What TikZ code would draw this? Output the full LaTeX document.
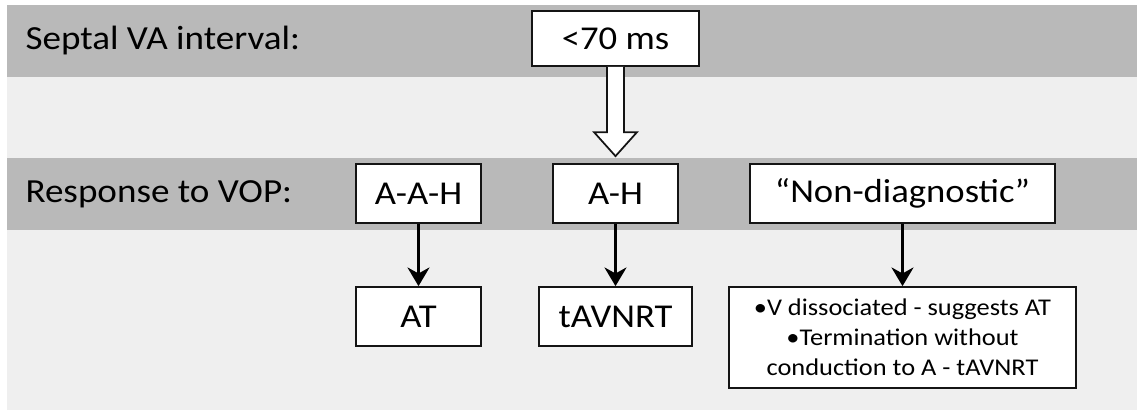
\documentclass[tikz,border=0pt]{standalone}
\usepackage{fontspec}
\setmainfont{Carlito}[FakeStretch=1.1]
\usetikzlibrary{arrows.meta,calc}

\definecolor{bandgray}{RGB}{185,185,185}
\definecolor{lightgray}{RGB}{239,239,239}

\tikzset{every picture/.style={line width=0.75pt}}
\tikzset{
	box/.style={draw={rgb, 255:red, 20; green, 20; blue, 20}, line width=1.3pt, fill=white, inner sep=0pt,
		font=\fontsize{25}{30}\selectfont},
	rowlabel/.style={anchor=west, inner sep=0pt, font=\fontsize{25.3}{30}\selectfont},
	result/.style={line width=2.25pt, -{Stealth[length=14pt, width=16.5pt, inset=4.5pt]}},
	hollow/.style={draw={rgb, 255:red, 20; green, 20; blue, 20}, line width=1.3pt, fill=white, line join=miter}
}

\begin{document}
\begin{tikzpicture}[x=0.75pt,y=0.75pt,yscale=-1,xscale=1]
		\path[fill=white] (0,0) rectangle (1137,411);
		\useasboundingbox (0,0) rectangle (1137,411);
		
		%Shape: Rectangle [id:background]
		\fill[lightgray] (7,5) rectangle (1137,410);
		%Shape: Rectangle [id:band top]
		\fill[bandgray] (7,5) rectangle (1137,77);
		%Shape: Rectangle [id:band middle]
		\fill[bandgray] (7,158) rectangle (1137,230);
		
		% Text Node
		\node[rowlabel] (septal) at (25,41) {Septal VA interval:};
		% Text Node
		\node[rowlabel] (response) at (25,194) {Response to VOP:};
		
		% Text Node
		\node[box, minimum width=125pt, minimum height=41.25pt] (lt) at (615.5,38.5) {<70 ms};
		% Text Node
		\node[box, minimum width=93.75pt, minimum height=44.25pt] (aah) at (418.5,193.5) {A-A-H};
		% Text Node
		\node[box, minimum width=93.75pt, minimum height=44.25pt] (ah) at (615.5,193.5) {A-H};
		% Text Node
		\node[box, minimum width=228.75pt, minimum height=44.25pt] (nondiag) at (902.5,193.5) {“Non-diagnostic”};
		% Text Node
		\node[box, minimum width=93.75pt, minimum height=44.25pt] (at) at (418.5,316.5) {AT};
		% Text Node
		\node[box, minimum width=114.75pt, minimum height=44.25pt] (tavnrt) at (615.5,316.5) {tAVNRT};
		% Text Node
		\node[box, minimum width=260.25pt, minimum height=75.75pt, align=center,
			font=\fontsize{18}{22.5}\selectfont] (notes) at (902.5,337.5)
			{•V dissociated - suggests AT\\•Termination without\\conduction to A - tAVNRT};
		
		%Hollow Arrow [id:interval to response]
		\draw[hollow] ($(lt.south)+(-8.5,0)$) -- ($(ah.north)+(-8.5,-31)$) -- ($(ah.north)+(-21.5,-31)$)
			-- ($(ah.north)+(0,-7)$) -- ($(ah.north)+(21.5,-31)$) -- ($(ah.north)+(8.5,-31)$) -- ($(lt.south)+(8.5,0)$) ;
		
		%Straight Lines [id:results]
		\draw[result] (aah.south) -- (at.north) ;
		\draw[result] (ah.south) -- (tavnrt.north) ;
		\draw[result] (nondiag.south) -- (notes.north) ;
		
\end{tikzpicture}
\end{document}
